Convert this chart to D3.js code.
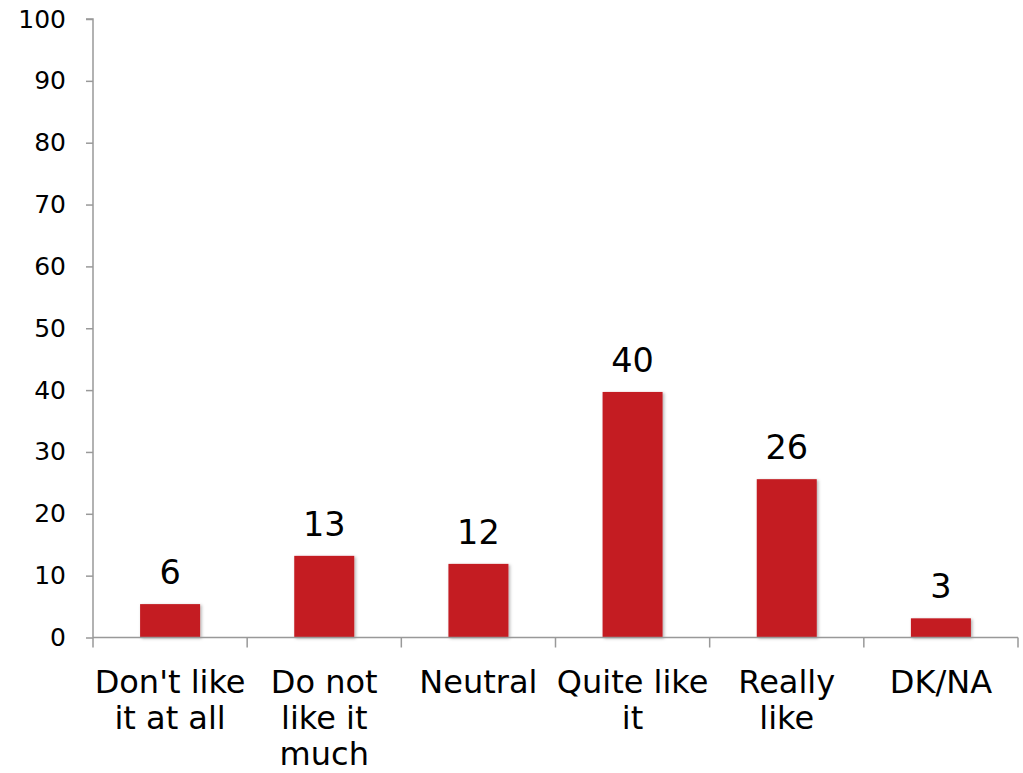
<!DOCTYPE html>
<html>
<head>
<meta charset="utf-8">
<script src="https://cdn.jsdelivr.net/npm/d3@7"></script>
<style>
body { margin: 0; background: #fff; }
svg { display: block; }
text { font-family: "DejaVu Sans", Verdana, sans-serif; fill: #000; }
</style>
</head>
<body>
<svg id="chart" width="1023" height="773"></svg>
<script>
const categories = [["Don't like", "it at all"], ["Do not", "like it", "much"], ["Neutral"], ["Quite like", "it"], ["Really", "like"], ["DK/NA"]];
const values = [5.4, 13.2, 11.9, 39.7, 25.6, 3.1];
const valueLabels = ["6", "13", "12", "40", "26", "3"];
const yTicks = [0, 10, 20, 30, 40, 50, 60, 70, 80, 90, 100];

(function () {
const svg = d3.select("#chart");
const mLeft = 93, mRight = 1018, mTop = 19, mBottom = 637.5;
const x = d3.scaleBand().domain(d3.range(categories.length)).range([mLeft, mRight]).padding(0);
const y = d3.scaleLinear().domain([0, 100]).range([mBottom, mTop]);
const axisColor = "#999";

const defs = svg.append("defs");
const f = defs.append("filter").attr("id", "shadow").attr("x", "-20%").attr("y", "-20%").attr("width", "140%").attr("height", "140%");
f.append("feDropShadow").attr("dx", 1.5).attr("dy", 1).attr("stdDeviation", 1.5).attr("flood-color", "#000").attr("flood-opacity", 0.3);

// bars
const barW = 60;
svg.append("g").selectAll("rect").data(values).join("rect")
  .attr("x", (d, i) => x(i) + x.bandwidth() / 2 - barW / 2)
  .attr("y", d => y(d))
  .attr("width", barW)
  .attr("height", d => y(0) - y(d))
  .attr("fill", "#C41E24")
  .attr("filter", "url(#shadow)");

// value labels
svg.append("g").selectAll("text").data(values).join("text")
  .attr("x", (d, i) => x(i) + x.bandwidth() / 2)
  .attr("y", d => y(d) - 20)
  .attr("text-anchor", "middle")
  .style("font-size", "33.5px")
  .text((d, i) => valueLabels[i]);

// y axis
const yAxis = svg.append("g").attr("transform", `translate(${mLeft},0)`)
  .call(d3.axisLeft(y).tickValues(yTicks).tickSize(7).tickPadding(20).tickFormat(d3.format("d")));
yAxis.select(".domain").attr("stroke", axisColor).attr("stroke-width", 1.5).attr("d", `M-7,${mTop}H0V${mBottom}`);
yAxis.selectAll(".tick line").attr("stroke", axisColor).attr("stroke-width", 1.5);
yAxis.selectAll(".tick text").style("font-size", "25px").attr("font-family", null).attr("fill", "#000");

// x axis
const bounds = d3.range(categories.length + 1).map(i => mLeft + i * x.bandwidth());
const xg = svg.append("g");
xg.append("line").attr("x1", mLeft).attr("x2", mRight).attr("y1", mBottom).attr("y2", mBottom)
  .attr("stroke", axisColor).attr("stroke-width", 1.5);
xg.selectAll("line.t").data(bounds).join("line").attr("class", "t")
  .attr("x1", d => d).attr("x2", d => d).attr("y1", mBottom).attr("y2", mBottom + 10)
  .attr("stroke", axisColor).attr("stroke-width", 1.5);

// category labels
const cl = svg.append("g").selectAll("text").data(categories).join("text")
  .attr("x", (d, i) => x(i) + x.bandwidth() / 2)
  .attr("y", 693)
  .attr("text-anchor", "middle")
  .style("font-size", "32px");
cl.each(function(lines) {
  const t = d3.select(this);
  lines.forEach((l, j) => {
    t.append("tspan").attr("x", t.attr("x")).attr("dy", j === 0 ? 0 : 36).text(l);
  });
});
})();
</script>
</body>
</html>
